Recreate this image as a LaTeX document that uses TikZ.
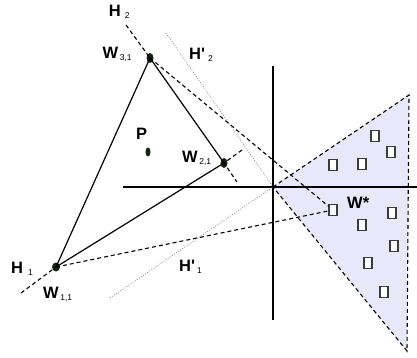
\documentclass[tikz,border=0pt]{standalone}
\usepackage{fontspec}
\setmainfont{Liberation Sans}
\usetikzlibrary{shapes.geometric}
\definecolor{dotgreen}{RGB}{20,36,20}
\definecolor{conefill}{RGB}{232,232,250}
\definecolor{boxgray}{RGB}{60,60,60}
\tikzstyle{wdot}=[ellipse, fill=dotgreen, inner sep=0pt, minimum width=7pt, minimum height=10pt]
\tikzstyle{wbox}=[rectangle, draw=boxgray, fill=white, line width=1.1pt, inner sep=0pt, minimum width=8pt, minimum height=11pt]
\tikzstyle{lbl}=[anchor=base west, inner sep=0pt, font=\fontsize{16.5}{18}\selectfont\bfseries]
\tikzstyle{hplane}=[dash pattern=on 4pt off 3pt, line width=1.1pt]
\tikzstyle{hshift}=[dash pattern=on 1pt off 1.5pt, line width=0.6pt, gray]
\tikzstyle{edge}=[line width=1.2pt]
\tikzstyle{axis}=[line width=1.8pt]
\newcommand{\sublbl}[3]{#1\hspace{#2}\raisebox{-2pt}{\fontsize{8.5}{9}\selectfont\mdseries #3}}

\begin{document}
\begin{tikzpicture}[x=1pt,y=-1pt]
  \useasboundingbox (0,0) rectangle (417,358);
  % cone
  \coordinate (o) at (273,187);
  \coordinate (ctop) at (409,95);
  \coordinate (cbot) at (407,351);
  \fill[conefill] (o) -- (ctop) -- (cbot) -- cycle;
  \draw[hplane] (o) -- (ctop) -- (cbot) -- (o);
  % axes
  \coordinate (xl) at (123,187);
  \coordinate (xr) at (417,187);
  \coordinate (yt) at (273,66);
  \coordinate (yb) at (273,320);
  \draw[axis] (xl) -- (xr);
  \draw[axis] (yt) -- (yb);
  % points
  \node[wdot] (w31) at (150,58) {};
  \node[wdot] (w21) at (224,163) {};
  \node[wdot, minimum width=8pt, minimum height=9pt] (w11) at (56,267) {};
  \node[wdot, minimum width=5pt, minimum height=9pt] (p) at (148,152) {};
  \node[wbox] (wstar) at (333,210) {};
  \foreach \bx/\by [count=\i] in {375/136, 391/152, 333/165, 362/164, 392/213, 362/225, 394/246, 368/263, 384/292}
    \node[wbox] (wgood\i) at (\bx,\by) {};
  % triangle
  \draw[edge] (w11.center) -- (w31.center) -- (w21.center) -- cycle;
  % hyperplanes
  \coordinate (h2end) at (126,25);
  \coordinate (h1end) at (21,293);
  \coordinate (h21up) at (242,150);
  \coordinate (h21dn) at (237,182);
  \draw[hplane] (h2end) -- (w31.center);
  \draw[hplane] (h1end) -- (w11.center);
  \draw[hplane] (h21up) -- (w21.center) -- (h21dn);
  \draw[hplane] (w31.center) -- (wstar);
  \draw[hplane] (w11.center) -- (wstar);
  % shifted hyperplanes
  \coordinate (h2pend) at (166,33);
  \coordinate (h1pend) at (110,298);
  \draw[hshift] (h2pend) -- (o);
  \draw[hshift] (h1pend) -- (o);
  % labels
  \node[lbl] (h2lbl) at (108.7,17) {\sublbl{H}{4pt}{2}};
  \node[lbl] (w31lbl) at (102.5,59) {\sublbl{W}{1.5pt}{3,1}};
  \node[lbl] (h2plbl) at (189,60) {\sublbl{H\textquotesingle}{3pt}{2}};
  \node[lbl] (plbl) at (136,140) {P};
  \node[lbl] (w21lbl) at (182,162) {\sublbl{W}{1.5pt}{2,1}};
  \node[lbl] (h1lbl) at (11,273) {\sublbl{H}{5pt}{1}};
  \node[lbl] (w11lbl) at (43,298) {\sublbl{W}{1.5pt}{1,1}};
  \node[lbl] (h1plbl) at (179,271) {\sublbl{H\textquotesingle}{2pt}{1}};
  \node[lbl] (wslbl) at (347,208) {W*};
\end{tikzpicture}
\end{document}
